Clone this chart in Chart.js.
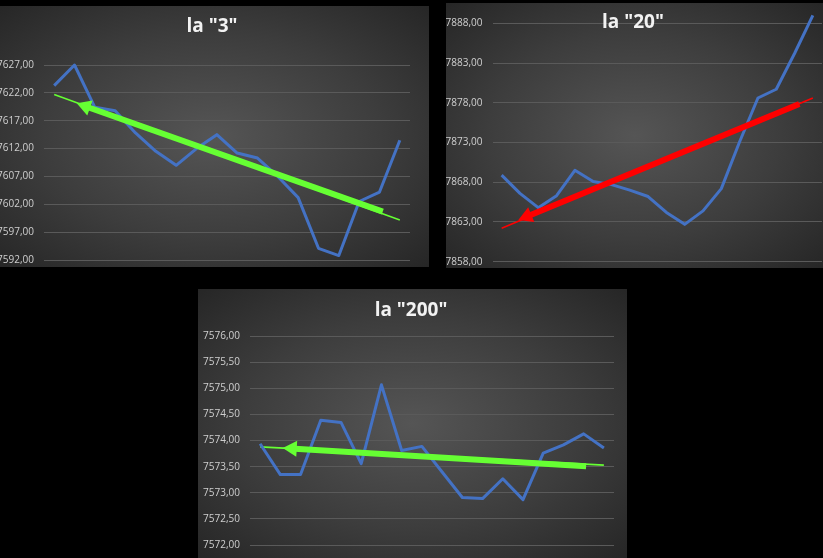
<!DOCTYPE html>
<html>
<head>
<meta charset="utf-8">
<script src="https://cdn.jsdelivr.net/npm/chart.js@4.4.1/dist/chart.umd.min.js"></script>
<style>
  html, body { margin: 0; padding: 0; background: #000; width: 823px; height: 558px; overflow: hidden; }
  body { position: relative; }
  .panel { position: absolute; overflow: hidden;
    background: radial-gradient(ellipse farthest-corner at 50% 50%, #555555 0%, #3d3d3d 55%, #262626 100%); }
  .panel canvas { display: block; }
</style>
</head>
<body>
<div class="panel" style="left:-4px;top:6px;width:433px;height:261px"><canvas id="c1" width="433" height="261"></canvas></div>
<div class="panel" style="left:446px;top:3px;width:377px;height:265px"><canvas id="c2" width="377" height="265"></canvas></div>
<div class="panel" style="left:198px;top:289px;width:429px;height:269px"><canvas id="c3" width="429" height="269"></canvas></div>
<script>
// ---- data ----
const sessions = [1, 2, 3, 4, 5, 6, 7, 8, 9, 10, 11, 12, 13, 14, 15, 16, 17, 18];

const title3 = 'la "3"';
const la3 = [7623.3, 7627.0, 7619.4, 7618.8, 7614.8, 7611.5, 7609.0, 7612.0, 7614.5, 7611.2, 7610.3, 7607.0, 7603.2, 7594.1, 7592.8, 7602.5, 7604.2, 7613.5];
const trend3 = [7621.7, 7599.2];          // at first and last session
const arrow3X = [16.16, 1.11];            // tail, head (session index)
const arrow3Y = [7600.67, 7620.13];
const ticks3 = [7592, 7627, 5];           // min, max, step

const title20 = 'la "20"';
const la20 = [7868.9, 7866.6, 7864.8, 7866.3, 7869.5, 7868.1, 7867.7, 7867.0, 7866.2, 7864.2, 7862.7, 7864.4, 7867.2, 7873.1, 7878.6, 7879.7, 7884.2, 7889.0];
const trend20 = [7862.2, 7878.6];
const arrow20X = [16.26, 0.91];
const arrow20Y = [7877.84, 7863.25];
const ticks20 = [7858, 7888, 5];

const title200 = 'la "200"';
const la200 = [7573.94, 7573.35, 7573.35, 7574.39, 7574.35, 7573.56, 7575.07, 7573.81, 7573.89, 7573.40, 7572.91, 7572.89, 7573.27, 7572.87, 7573.76, 7573.92, 7574.13, 7573.86];
const trend200 = [7573.88, 7573.53];
const arrow200X = [16.12, 1.12];
const arrow200Y = [7573.51, 7573.86];
const ticks200 = [7572, 7576, 0.5];

// ---- plugins ----
const overlayTitle = {
  id: 'overlayTitle',
  afterDraw(chart, args, o) {
    const ctx = chart.ctx;
    ctx.save();
    ctx.font = 'bold ' + o.size + 'px ' + o.family;
    ctx.fillStyle = o.color;
    ctx.textAlign = 'center';
    ctx.textBaseline = 'middle';
    ctx.fillText(o.text, o.x, o.y);
    ctx.restore();
  }
};

const arrowPlugin = {
  id: 'arrow',
  afterDatasetsDraw(chart, args, o) {
    const xs = chart.scales.x, ys = chart.scales.y, ctx = chart.ctx;
    const x0 = xs.getPixelForValue(o.xs[0]), y0 = ys.getPixelForValue(o.ys[0]);
    const x1 = xs.getPixelForValue(o.xs[1]), y1 = ys.getPixelForValue(o.ys[1]);
    const a = Math.atan2(y1 - y0, x1 - x0);
    const c = Math.cos(a), s = Math.sin(a);
    const bx = x1 - o.headLength * c, by = y1 - o.headLength * s;
    ctx.save();
    ctx.strokeStyle = o.color;
    ctx.fillStyle = o.color;
    ctx.lineWidth = o.width;
    ctx.lineCap = 'butt';
    ctx.beginPath();
    ctx.moveTo(x0, y0);
    ctx.lineTo(bx + 2 * c, by + 2 * s);
    ctx.stroke();
    const hw = o.headWidth / 2;
    ctx.beginPath();
    ctx.moveTo(x1, y1);
    ctx.lineTo(bx + hw * s, by - hw * c);
    ctx.lineTo(bx - hw * s, by + hw * c);
    ctx.closePath();
    ctx.fill();
    ctx.restore();
  }
};

const fmt = v => v.toFixed(2).replace('.', ',');

function makeChart(id, values, trend, ax, ay, tk, color, title, layout) {
  const first = 0, last = sessions.length - 1;
  return new Chart(document.getElementById(id), {
    type: 'line',
    data: {
      datasets: [
        {
          data: values.map((v, i) => ({ x: i, y: v })),
          borderColor: '#4472C4',
          borderWidth: 3,
          pointRadius: 0,
          tension: 0,
          clip: false,
          borderJoinStyle: 'round'
        },
        {
          data: [{ x: first, y: trend[0] }, { x: last, y: trend[1] }],
          borderColor: color,
          borderWidth: 1.6,
          pointRadius: 0,
          clip: false
        }
      ]
    },
    options: {
      responsive: false,
      animation: false,
      events: [],
      layout: { padding: layout.padding },
      scales: {
        x: { type: 'linear', min: -0.5, max: sessions.length - 0.5, display: false },
        y: {
          min: tk[0], max: tk[1],
          afterFit: s => { s.width = layout.axisWidth; s.paddingTop = 0; s.paddingBottom = 0; },
          border: { display: false },
          grid: { color: '#5a5a5a', lineWidth: 1, drawTicks: false },
          ticks: {
            stepSize: tk[2],
            padding: 10,
            color: '#cfcfcf',
            font: { family: 'Open Sans', size: 10 },
            callback: v => fmt(v)
          }
        }
      },
      plugins: {
        legend: { display: false },
        tooltip: { enabled: false },
        title: { display: false },
        overlayTitle: { text: title, x: layout.titleX, y: layout.titleY, size: 19, family: 'Open Sans', color: '#f2f2f2' },
        arrow: { xs: ax, ys: ay, color: color, width: 6, headLength: 14, headWidth: 16 }
      }
    },
    plugins: [overlayTitle, arrowPlugin]
  });
}

makeChart('c1', la3, trend3, arrow3X, arrow3Y, ticks3, '#66ff33', title3,
  { padding: { left: 0, right: 19, top: 59, bottom: 7 }, axisWidth: 48, titleX: 216, titleY: 21 });
makeChart('c2', la20, trend20, arrow20X, arrow20Y, ticks20, '#ff0000', title20,
  { padding: { left: 0, right: 1, top: 20.3, bottom: 6.3 }, axisWidth: 46.5, titleX: 187, titleY: 20 });
makeChart('c3', la200, trend200, arrow200X, arrow200Y, ticks200, '#66ff33', title200,
  { padding: { left: 0, right: 13, top: 47.3, bottom: 13 }, axisWidth: 52, titleX: 213, titleY: 22 });
</script>
</body>
</html>
